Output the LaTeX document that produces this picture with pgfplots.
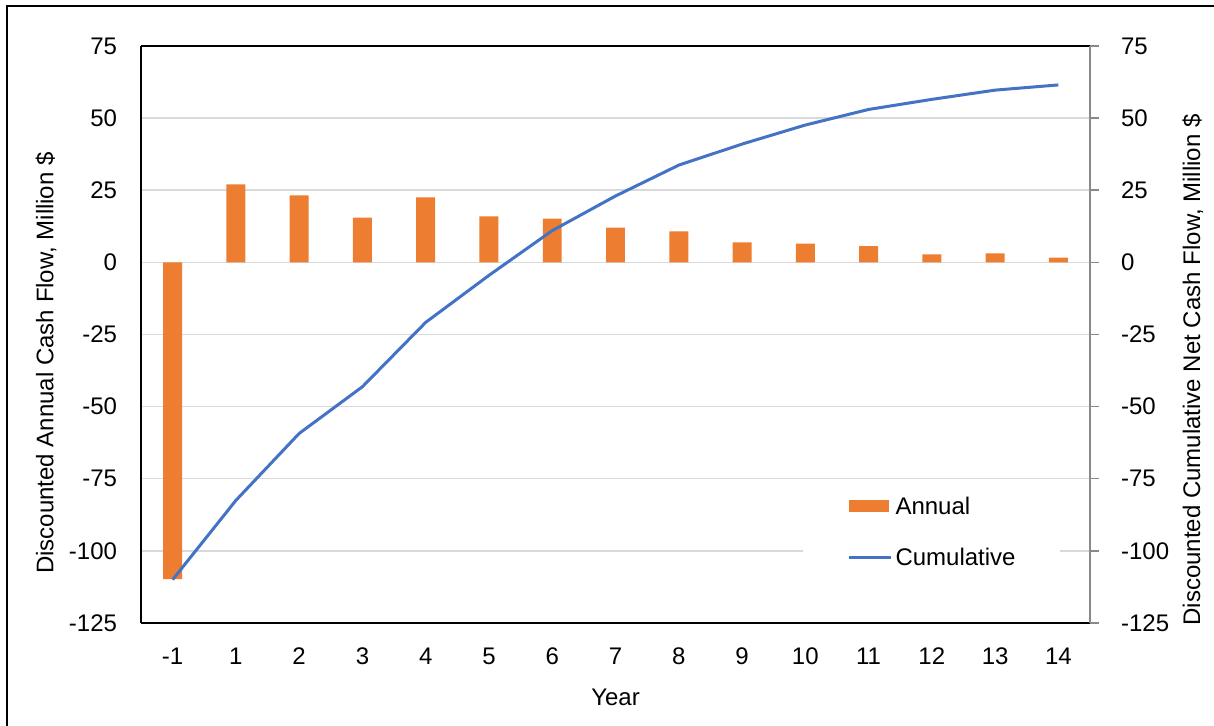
\documentclass[border=0pt]{standalone}
\usepackage{fontspec}
\setmainfont{Liberation Sans}
\usepackage{pgfplots}
\pgfplotsset{compat=1.18}
\definecolor{barorange}{HTML}{ED7D31}
\definecolor{lineblue}{HTML}{4472C4}
\definecolor{gridgray}{HTML}{D9D9D9}
\definecolor{axisgray}{HTML}{898989}
\begin{document}
\fontsize{12}{14}\selectfont
\begin{tikzpicture}
\begin{axis}[
  at={(70.5pt,51.5pt)}, anchor=south west, scale only axis,
  width=474.5pt, height=288.5pt,
  xmin=-0.5, xmax=14.5, ymin=-125, ymax=75,
  axis x line*=box, axis y line*=left,
  axis line style={black, line width=0.75pt},
  xtick={0,...,14},
  xticklabels={-1,1,2,3,4,5,6,7,8,9,10,11,12,13,14},
  xticklabel pos=lower,
  ytick={-125,-100,...,75},
  tick style={draw=none},
  ymajorgrids, grid style={gridgray, line width=0.75pt},
  /pgf/number format/assume math mode=true,
  xticklabel style={anchor=center, inner sep=0pt, yshift=-16.8pt},
  yticklabel style={anchor=east, inner sep=0pt, xshift=-11.8pt},
  xlabel={Year},
  xlabel style={at={(axis description cs:0.5,-0.1282)}, anchor=center, inner sep=0pt},
  ylabel={Discounted Annual Cash Flow, Million \$},
  ylabel style={at={(axis description cs:-0.0924,0.4506)}, anchor=base, inner sep=0pt},
  legend style={at={(rel axis cs:0.6976,0.2496)}, anchor=north west,
    draw=none, fill=white, inner xsep=22.25pt, inner ysep=9.2pt,
    row sep=16.9pt, cells={anchor=west},
    nodes={inner sep=0pt, text height=8.6pt, text depth=0pt}},
  legend cell align=left,
]
\addplot[ybar, bar width=0.3, bar shift=0pt, fill=barorange, draw=none,
  legend image code/.code={\fill[barorange] (0pt,-3pt) rectangle (20pt,3pt); \path (22.3pt,0pt);}]
  coordinates {(0,-109.8) (1,27.0) (2,23.2) (3,15.5) (4,22.5) (5,15.9) (6,15.2) (7,12.0)
               (8,10.7) (9,6.9) (10,6.5) (11,5.6) (12,2.8) (13,3.1) (14,1.6)};
\addlegendentry{Annual}
\addplot[lineblue, line width=1.5pt, mark=none,
  legend image code/.code={\draw[lineblue, line width=1.5pt] (0pt,0pt) -- (21pt,0pt); \path (22.3pt,0pt);}]
  coordinates {(0,-110) (1,-82.5) (2,-59.3) (3,-43.1) (4,-20.8) (5,-4.5) (6,11) (7,23)
               (8,33.7) (9,41) (10,47.6) (11,53) (12,56.5) (13,59.7) (14,61.5)};
\addlegendentry{Cumulative}
\end{axis}
\begin{axis}[
  at={(70.5pt,51.5pt)}, anchor=south west, scale only axis,
  width=474.5pt, height=288.5pt,
  xmin=-0.5, xmax=14.5, ymin=-125, ymax=75,
  axis x line=none, axis y line*=right,
  y axis line style={axisgray, line width=0.75pt},
  ytick={-125,-100,...,75},
  ytick style={axisgray, line width=0.75pt},
  tick align=outside, major tick length=4.5pt,
  /pgf/number format/assume math mode=true,
  yticklabel style={anchor=west, inner sep=0pt, xshift=10.85pt},
  ylabel={Discounted Cumulative Net Cash Flow, Million \$},
  ylabel style={at={(axis description cs:1.1159,0.4385)}, anchor=base, inner sep=0pt},
]
\addplot[draw=none] coordinates {(0,0)};
\end{axis}
\draw[line width=1pt] (3.5pt,-2pt) -- (3.5pt,360pt) -- (610pt,360pt);
\pgfresetboundingbox
\useasboundingbox (0pt,0pt) rectangle (607pt,363pt);
\end{tikzpicture}
\end{document}
